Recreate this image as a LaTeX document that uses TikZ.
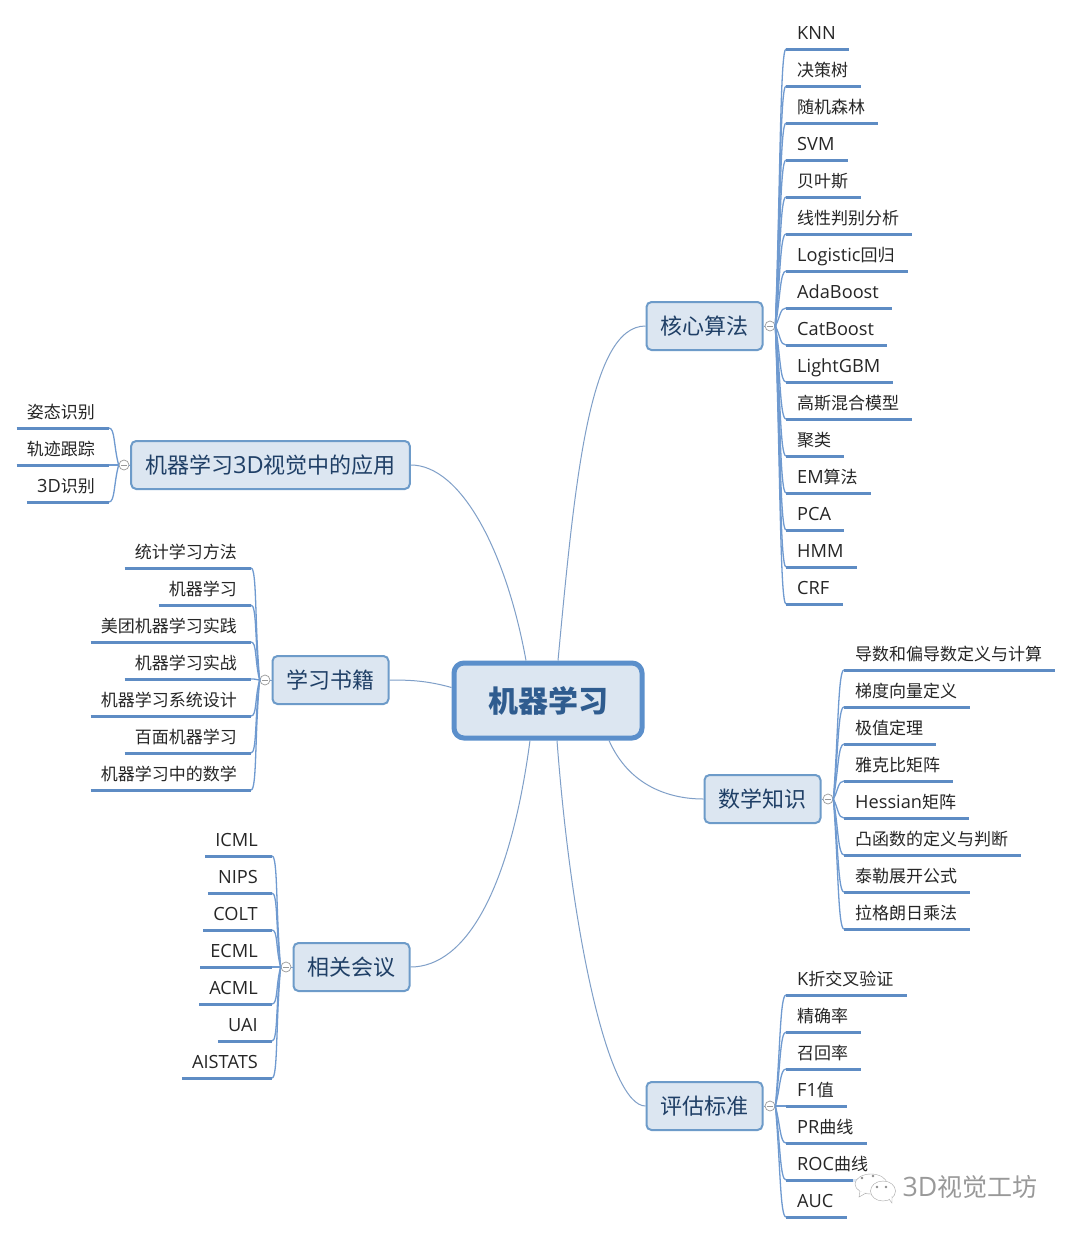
\documentclass[tikz,border=0pt]{standalone}
\usepackage{fontspec}
\usepackage{xcolor}
\usepackage{tikz}
\usetikzlibrary{positioning}
\setmainfont{Noto Sans CJK SC}
\newfontfamily\lat[Scale=1.07]{Open Sans}
\newcommand{\la}[1]{{\lat #1}}
\definecolor{boxfill}{HTML}{DCE6F1}
\definecolor{mainline}{HTML}{5B8FCB}
\definecolor{topicline}{HTML}{6D9BC9}
\definecolor{branchline}{HTML}{7F9FC8}
\definecolor{twigline}{HTML}{6F9AD0}
\definecolor{leafline}{HTML}{5E8CC4}
\definecolor{topictext}{HTML}{1F3F66}
\definecolor{maintext}{HTML}{2F5C8F}

\begin{document}
\begin{tikzpicture}[
    x=1pt, y=-1pt,
    mainbox/.style={draw=mainline, line width=5pt, rounded corners=10pt, fill=boxfill, minimum width=188pt, minimum height=75pt, inner sep=0pt, text height=25pt, text depth=2pt, text=maintext, font=\fontsize{30}{30}\selectfont\bfseries},
    topic/.style={draw=topicline, line width=2pt, rounded corners=5pt, fill=boxfill, minimum height=48pt, inner xsep=14pt, inner ysep=0pt, text height=18pt, text depth=2pt, text=topictext, font=\fontsize{22}{22}\selectfont},
    leaf/.style={inner ysep=6pt, text height=13pt, text depth=3pt, text=black!85, font=\fontsize{17}{17}\selectfont},
    leafright/.style={leaf, anchor=south west, inner xsep=11pt, execute at end node={\hspace*{2pt}}},
    leafleft/.style={leaf, anchor=south east, inner xsep=10pt, execute at end node={\hspace*{4pt}}},
    hub/.style={draw=black!40, circle, line width=0.7pt, fill=white, minimum size=10pt, inner sep=0pt, path picture={\draw[black!40, line width=0.7pt] ([xshift=-3pt]path picture bounding box.center) -- ([xshift=3pt]path picture bounding box.center);}},
    branch/.style={draw=branchline, line width=1pt},
    twig/.style={draw=twigline, line width=1.3pt},
    rule/.style={draw=leafline, line width=3pt}
]
\useasboundingbox[fill=white] (0,0) rectangle (1072,1234);

\node[mainbox] (center) at (548,700.5) {机器学习};

\node[topic] (core) at (704.5,326) {核心算法};
\node[topic] (math) at (762.5,799) {数学知识};
\node[topic] (eval) at (704.5,1106) {评估标准};
\node[topic] (app) at (270.5,465) {机器学习\la{3D}视觉中的应用};
\node[topic] (book) at (330.5,680) {学习书籍};
\node[topic] (conf) at (351.5,967) {相关会议};

\node[hub] (hubcore) at (770,326) {};
\node[hub] (hubmath) at (828,799) {};
\node[hub] (hubeval) at (770,1106) {};
\node[hub] (hubapp) at (124,465) {};
\node[hub] (hubbook) at (265,680) {};
\node[hub] (hubconf) at (286,967) {};

\draw[branch] (core.east) -- (hubcore);
\draw[branch] (math.east) -- (hubmath);
\draw[branch] (eval.east) -- (hubeval);
\draw[branch] (app.west) -- (hubapp);
\draw[branch] (book.west) -- (hubbook);
\draw[branch] (conf.west) -- (hubconf);

% main branches
\draw[branch] ([xshift=10pt]center.north) .. controls +(17,-182) and +(-56,0) .. (core.west);
\draw[branch] ([xshift=-22pt]center.north) .. controls +(-20,-110) and +(50,0) .. (app.east);
\draw[branch] ([yshift=13pt]center.west) .. controls +(-25,-7) and +(20,0) .. (book.east);
\draw[branch] ([xshift=-18pt]center.south) .. controls +(-20,150) and +(55,0) .. (conf.east);
\draw[branch] ([xshift=9pt]center.south) .. controls +(15,200) and +(-36,0) .. (eval.west);
\draw[branch] ([xshift=61pt]center.south) .. controls +(20,45) and +(-35,0) .. (math.west);

% right side
\foreach \txt [count=\i] in {\la{KNN},决策树,随机森林,\la{SVM},贝叶斯,线性判别分析,\la{Logistic}回归,\la{AdaBoost},\la{CatBoost},\la{LightGBM},高斯混合模型,聚类,\la{EM}算法,\la{PCA},\la{HMM},\la{CRF}} {
    \pgfmathsetmacro\ty{12+37*\i}
    \node[leafright] (core\i) at (786,\ty) {\txt};
    \draw[twig] (hubcore.east) .. controls +(5,{(\ty-326)/2}) and +(-6,0) .. (core\i.south west);
    \draw[rule] (core\i.south west) -- (core\i.south east);
}
\foreach \txt [count=\i] in {导数和偏导数定义与计算,梯度向量定义,极值定理,雅克比矩阵,\la{Hessian}矩阵,凸函数的定义与判断,泰勒展开公式,拉格朗日乘法} {
    \pgfmathsetmacro\ty{633+37*\i}
    \node[leafright] (math\i) at (844,\ty) {\txt};
    \draw[twig] (hubmath.east) .. controls +(5,{(\ty-799)/2}) and +(-6,0) .. (math\i.south west);
    \draw[rule] (math\i.south west) -- (math\i.south east);
}
\foreach \txt [count=\i] in {\la{K}折交叉验证,精确率,召回率,\la{F1}值,\la{PR}曲线,\la{ROC}曲线,\la{AUC}} {
    \pgfmathsetmacro\ty{958+37*\i}
    \node[leafright] (eval\i) at (786,\ty) {\txt};
    \draw[twig] (hubeval.east) .. controls +(5,{(\ty-1106)/2}) and +(-6,0) .. (eval\i.south west);
    \draw[rule] (eval\i.south west) -- (eval\i.south east);
}

% left side
\foreach \txt [count=\i] in {姿态识别,轨迹跟踪,\la{3D}识别} {
    \pgfmathsetmacro\ty{391+37*\i}
    \node[leafleft] (app\i) at (109,\ty) {\txt};
    \draw[twig] (hubapp.west) .. controls +(-5,{(\ty-465)/2}) and +(6,0) .. (app\i.south east);
    \draw[rule] (app\i.south west) -- (app\i.south east);
}
\foreach \txt [count=\i] in {统计学习方法,机器学习,美团机器学习实践,机器学习实战,机器学习系统设计,百面机器学习,机器学习中的数学} {
    \pgfmathsetmacro\ty{531+37*\i}
    \node[leafleft] (book\i) at (251,\ty) {\txt};
    \draw[twig] (hubbook.west) .. controls +(-5,{(\ty-680)/2}) and +(6,0) .. (book\i.south east);
    \draw[rule] (book\i.south west) -- (book\i.south east);
}
\foreach \txt [count=\i] in {\la{ICML},\la{NIPS},\la{COLT},\la{ECML},\la{ACML},\la{UAI},\la{AISTATS}} {
    \pgfmathsetmacro\ty{819+37*\i}
    \node[leafleft] (conf\i) at (272,\ty) {\txt};
    \draw[twig] (hubconf.west) .. controls +(-5,{(\ty-967)/2}) and +(6,0) .. (conf\i.south east);
    \draw[rule] (conf\i.south west) -- (conf\i.south east);
}

% watermark
\fill[white, opacity=0.8] (853,1172) rectangle (896,1204);
\draw[black!35, fill=white] (871,1184) ellipse (16 and 10);
\draw[black!35, fill=white] (860,1191) -- (859,1197) -- (866,1193);
\draw[black!35, fill=white] (883,1191) ellipse (12.5 and 10);
\draw[black!35, fill=white] (889,1199) -- (892,1203) -- (892,1196);
\fill[black!45] (862,1178) circle (1.3) (873,1176) circle (1.3) (877,1187) circle (1.3) (886,1187) circle (1.3);
\node[text=black!40, font=\fontsize{25}{25}\selectfont] (mark) at (970,1187) {\la{3D}视觉工坊};
\end{tikzpicture}
\end{document}
